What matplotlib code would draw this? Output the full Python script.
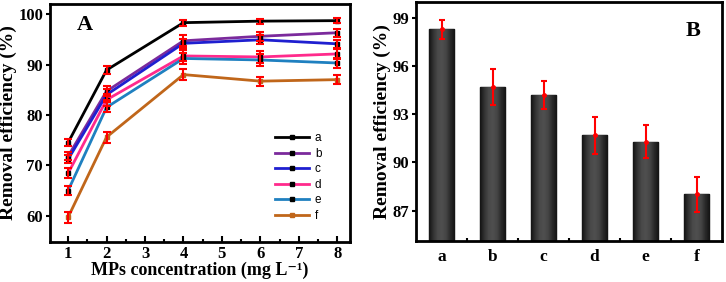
import matplotlib.pyplot as plt
import numpy as np

plt.rcParams['font.family'] = ['Liberation Serif', 'DejaVu Serif']
plt.rcParams['font.weight'] = 'bold'

# panel A data
conc = [1, 2, 4, 6, 8]
labels = ['a', 'b', 'c', 'd', 'e', 'f']
eff = {
    'a': [74.5, 88.9, 98.3, 98.6, 98.7],
    'b': [71.8, 84.7, 94.7, 95.6, 96.3],
    'c': [71.2, 84.0, 94.2, 94.9, 94.1],
    'd': [68.4, 83.0, 91.7, 91.5, 92.1],
    'e': [65.0, 81.5, 91.2, 90.9, 90.3],
    'f': [59.7, 75.6, 88.0, 86.7, 87.0],
}
err = {
    'a': [0.7, 0.8, 0.6, 0.5, 0.5],
    'b': [0.8, 1.0, 1.1, 0.9, 0.8],
    'c': [0.8, 1.1, 0.9, 0.9, 0.8],
    'd': [1.0, 1.2, 1.1, 1.2, 1.0],
    'e': [0.9, 1.0, 1.0, 1.1, 0.9],
    'f': [1.1, 1.1, 1.1, 0.9, 0.9],
}
colors = ['#000000', '#7b2a9c', '#1f1fd0', '#ff2a8c', '#1f80c0', '#c0661a']

# panel B data
bar_labels = ['a', 'b', 'c', 'd', 'e', 'f']
bar_vals = [98.3, 94.7, 94.2, 91.7, 91.3, 88.0]
bar_err = [0.6, 1.1, 0.9, 1.15, 1.05, 1.1]

fig = plt.figure(figsize=(7.26, 2.82), dpi=100)
axA = fig.add_axes([50 / 726, 40 / 282, 300 / 726, 238 / 282])
axB = fig.add_axes([416 / 726, 41 / 282, 306 / 726, 239 / 282])

for ax in (axA, axB):
    for s in ax.spines.values():
        s.set_linewidth(2)

# ---- A ----
for lab, c in zip(labels, colors):
    mc = '#c0661a' if lab == 'f' else 'black'
    axA.plot(conc, eff[lab], color=c, lw=2, marker='s', ms=3,
             mfc=mc, mec=mc, label=lab, zorder=2)
    axA.errorbar(conc, eff[lab], yerr=err[lab], fmt='none', ecolor='red',
                 elinewidth=1.5, capsize=3, capthick=1.5, zorder=3)

axA.set_xlim(0.53, 8.33)
axA.set_ylim(54.8, 102)
axA.set_xticks(range(1, 9))
axA.set_xticks(np.arange(1.5, 8.5, 1), minor=True)
axA.set_yticks([60, 70, 80, 90, 100])
axA.tick_params(axis='x', direction='in', width=1.5, length=4, labelsize=12, pad=3)
axA.tick_params(axis='x', which='minor', direction='in', width=1.5, length=2.5)
axA.tick_params(axis='y', direction='out', width=1.5, length=3, labelsize=12, pad=2)
axA.set_xlabel('MPs concentration (mg L\u207b\u00b9)', fontsize=13,
               fontweight='bold', labelpad=0)
axA.set_ylabel('Removal efficiency (%)', fontsize=14, fontweight='bold', labelpad=1)
axA.text(0.09, 0.91, 'A', transform=axA.transAxes, fontsize=16, fontweight='bold',
         ha='left', va='center')
leg = axA.legend(loc='lower right', bbox_to_anchor=(0.94, 0.04), frameon=False,
                 handlelength=2.9, handletextpad=0.5, labelspacing=0.3,
                 prop={'family': 'Liberation Sans', 'size': 8.5, 'weight': 'normal'})

# ---- B ----
x = np.arange(1, 7)
bars = axB.bar(x, bar_vals, width=0.5, color='#2a2a2a', edgecolor='black',
               linewidth=1, zorder=1)
shade = [0.08, 0.2, 0.29, 0.31, 0.27, 0.16, 0.08]
grad = np.interp(np.linspace(0, 6, 60), np.arange(7), shade)[None, :]
for b in bars:
    im = axB.imshow(grad, cmap='gray', vmin=0, vmax=1, aspect='auto',
                    extent=[b.get_x(), b.get_x() + b.get_width(), 85.1, b.get_height()],
                    zorder=1.5)
    im.set_clip_path(b)
axB.errorbar(x, bar_vals, yerr=bar_err, fmt='o', color='red', ms=2.5,
             ecolor='red', elinewidth=1.5, capsize=2.5, capthick=1.5, zorder=3)

axB.set_xlim(0.5, 6.5)
axB.set_ylim(85.1, 100)
axB.set_xticks(x)
axB.set_xticklabels(bar_labels)
axB.set_xticks(np.arange(1.5, 6.5, 1), minor=True)
axB.set_yticks([87, 90, 93, 96, 99])
axB.tick_params(axis='x', which='major', length=0, labelsize=12.5, pad=6)
axB.tick_params(axis='x', which='minor', direction='in', length=2, width=1.5)
axB.tick_params(axis='y', direction='out', width=1.5, length=3, labelsize=12, pad=2)
axB.set_ylabel('Removal efficiency (%)', fontsize=14, fontweight='bold', labelpad=1)
axB.text(0.93, 0.88, 'B', transform=axB.transAxes, fontsize=16, fontweight='bold',
         ha='right', va='center')

fig.savefig('out.png', dpi=100)
